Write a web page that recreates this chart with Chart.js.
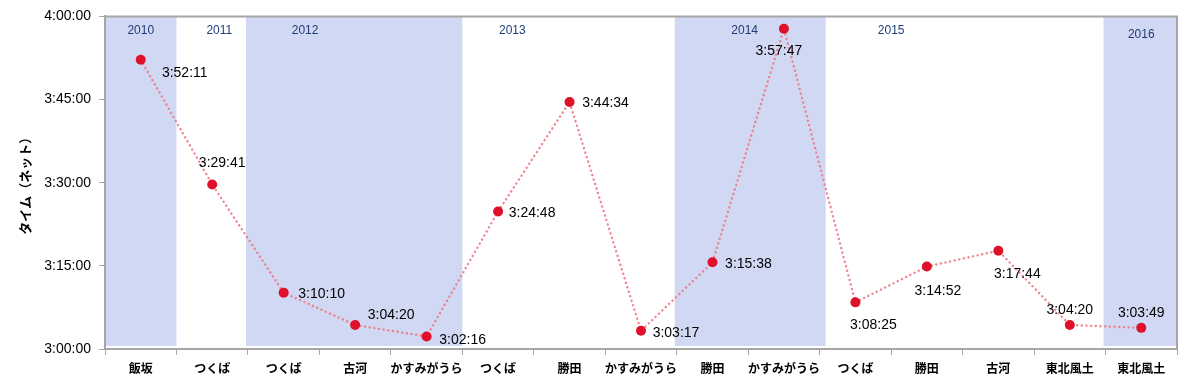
<!DOCTYPE html>
<html>
<head>
<meta charset="utf-8">
<script src="https://cdn.jsdelivr.net/npm/chart.js@4"></script>
<style>
  body { margin: 0; background: #fff; }
  #wrap { width: 1187px; height: 389px; }
</style>
</head>
<body>
<div id="wrap"><canvas id="myChart"></canvas></div>
<script>
// 大会名と記録（ネットタイム）
var races = ['飯坂', 'つくば', 'つくば', '古河', 'かすみがうら', 'つくば', '勝田', 'かすみがうら', '勝田', 'かすみがうら', 'つくば', '勝田', '古河', '東北風土', '東北風土'];
var times = ['3:52:11', '3:29:41', '3:10:10', '3:04:20', '3:02:16', '3:24:48', '3:44:34', '3:03:17', '3:15:38', '3:57:47', '3:08:25', '3:14:52', '3:17:44', '3:04:20', '3:03:49'];
var yearNames = ['2010', '2011', '2012', '2013', '2014', '2015', '2016'];
// 年ごとの網掛け（最初と最後の大会番号）
var shadedYears = [[0, 0], [2, 4], [8, 9], [14, 14]];

// 配置（ラベルのずれ）
var yearPos = [0, 1.1, 2.3, 5.2, 8.45, 10.5, 14];
var labelOffsets = [[44, 13], [10, -21], [38, 1], [36, -10], [36, 4], [34, 2], [36, 1], [35, 2], [36, 2], [-5, 22], [18, 23], [11, 25], [19, 23], [0, -15], [0, -15]];

function toSec(s) {
  var p = s.split(':');
  return (+p[0]) * 3600 + (+p[1]) * 60 + (+p[2]);
}
function fmt(v) {
  var h = Math.floor(v / 3600), m = Math.floor((v % 3600) / 60), s = v % 60;
  return h + ':' + String(m).padStart(2, '0') + ':' + String(s).padStart(2, '0');
}

var secs = times.map(toSec);

var bandsPlugin = {
  id: 'bands',
  beforeDatasetsDraw: function (chart) {
    var c = chart.ctx, a = chart.chartArea, x = chart.scales.x;
    var half = (x.getPixelForValue(1) - x.getPixelForValue(0)) / 2;
    c.save();
    c.fillStyle = '#d0d8f3';
    shadedYears.forEach(function (r) {
      var l = Math.max(a.left + 1, x.getPixelForValue(r[0]) - half - 2);
      var rr = Math.min(a.right, x.getPixelForValue(r[1]) + half + (r[0] == 8 ? 6 : 0));
      c.fillRect(l, a.top, rr - l, a.bottom - a.top - 3);
    });
    c.fillStyle = '#1f3c78';
    c.font = '12px "Liberation Sans", sans-serif';
    c.textAlign = 'center';
    c.textBaseline = 'middle';
    yearNames.forEach(function (y, i) {
      var px = x.getPixelForValue(0) + yearPos[i] * half * 2;
      c.fillText(y, px, i == 6 ? a.top + 18 : a.top + 14);
    });
    c.restore();
  },
  afterDatasetsDraw: function (chart) {
    var c = chart.ctx, a = chart.chartArea;
    var meta = chart.getDatasetMeta(0);
    c.save();
    c.fillStyle = '#000';
    c.font = '14px "Liberation Sans", sans-serif';
    c.textAlign = 'center';
    c.textBaseline = 'middle';
    meta.data.forEach(function (pt, i) {
      c.fillText(times[i], pt.x + labelOffsets[i][0], pt.y + labelOffsets[i][1]);
    });
    c.strokeStyle = '#a6a6a6';
    c.lineWidth = 2;
    c.beginPath();
    c.moveTo(a.left, a.top);
    c.lineTo(a.right, a.top);
    c.lineTo(a.right, a.bottom);
    c.stroke();
    c.restore();
  }
};

var ctx = document.getElementById('myChart').getContext('2d');
var myChart = new Chart(ctx, {
  type: 'line',
  data: {
    labels: races,
    datasets: [{
      label: 'タイム',
      data: secs,
      borderColor: 'rgba(238, 120, 130, 0.9)',
      borderWidth: 2.4,
      borderDash: [0.1, 4.6],
      borderCapStyle: 'round',
      pointRadius: 5,
      pointHoverRadius: 5,
      pointBackgroundColor: '#df1029',
      pointBorderWidth: 0,
      tension: 0
    }]
  },
  plugins: [bandsPlugin],
  options: {
    responsive: true,
    maintainAspectRatio: false,
    animation: false,
    layout: { padding: { top: 16, right: 10, left: 0, bottom: 0 } },
    plugins: { legend: { display: false }, tooltip: { enabled: false } },
    scales: {
      x: {
        offset: true,
        afterFit: function (s) { s.height = 40; },
        grid: { offset: true, drawOnChartArea: false, tickLength: 6, color: '#a6a6a6' },
        border: { color: '#a6a6a6', width: 2 },
        ticks: {
          color: '#000',
          padding: 6,
          maxRotation: 0,
          autoSkip: false,
          font: { family: '"Noto Sans CJK JP", sans-serif', size: 12, weight: 'bold' }
        }
      },
      y: {
        min: 10800,
        max: 14400,
        afterFit: function (s) { s.width = 105; },
        grid: { drawOnChartArea: false, tickLength: 6, color: '#a6a6a6' },
        border: { color: '#a6a6a6', width: 2 },
        ticks: {
          stepSize: 900,
          color: '#000',
          padding: 8,
          font: { family: '"Liberation Sans", sans-serif', size: 14 },
          callback: function (v) { return fmt(v); }
        },
        title: {
          display: true,
          text: 'タイム（ネット）',
          color: '#000',
          padding: { top: 17, bottom: 0 },
          font: { family: '"Noto Sans CJK JP", sans-serif', size: 13, weight: 'bold' }
        }
      }
    }
  }
});
</script>
</body>
</html>
